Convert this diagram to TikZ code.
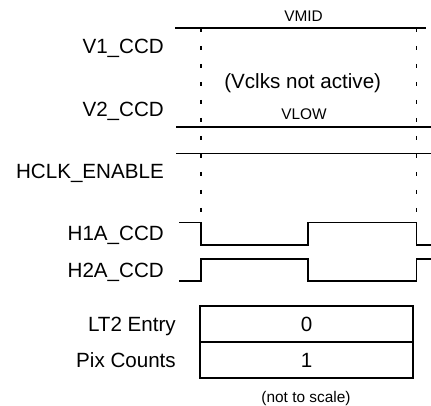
\documentclass[tikz,border=0pt]{standalone}
\usepackage{fontspec}
\setmainfont{Liberation Sans}
\begin{document}
\begin{tikzpicture}[x=1pt,y=-1pt,
  sig/.style={line width=1.5pt},
  guide/.style={line width=1.5pt, dash pattern=on 4pt off 14pt},
  lbl/.style={anchor=base east, inner sep=0pt, font=\fontsize{20.6}{24}\selectfont},
  big/.style={anchor=base, inner sep=0pt, font=\fontsize{20.6}{24}\selectfont},
  small/.style={anchor=base, inner sep=0pt, font=\fontsize{15.4}{18}\selectfont},
  cell/.style={draw, line width=1.5pt, minimum width=213pt, minimum height=36pt, inner sep=0pt, font=\fontsize{20.6}{24}\selectfont}]
\path[use as bounding box] (0,0) rectangle (431,406);

% labels
\node[lbl] (v1) at (164,53.4) {V1\_CCD};
\node[lbl] (v2) at (164,116.4) {V2\_CCD};
\node[lbl] (hclk) at (164,178.4) {HCLK\_ENABLE};
\node[lbl] (h1a) at (164,240.4) {H1A\_CCD};
\node[lbl] (h2a) at (164,277.4) {H2A\_CCD};
\node[lbl] (lt2) at (176,331.4) {LT2 Entry};
\node[lbl] (pix) at (176,367.4) {Pix Counts};

\node[small] (vmid) at (303.5,21.5) {VMID};
\node[small] (vlow) at (304,119.5) {VLOW};
\node[big] (vclk) at (302.7,88.4) {(Vclks not active)};
\node[small] (scale) at (306,402) {(not to scale)};

% coordinates
\coordinate (ga1) at (201,28);
\coordinate (ga2) at (201,222.7);
\coordinate (gb1) at (416.5,28);
\coordinate (gb2) at (416.5,222.7);

% guides
\draw[guide] (ga1) -- (ga2);
\draw[guide] (gb1) -- (gb2);

% levels
\draw[sig] (175,28) -- (426,28);
\draw[sig] (176,127) -- (431,127);
\draw[sig] (176,153.5) -- (431,153.5);

% H1A
\draw[sig] (179,222.7) -- (201,222.7) -- (201,245) -- (308,245) -- (308,222.7)
  -- (416.5,222.7) -- (416.5,245) -- (431,245);
% H2A
\draw[sig] (179,281) -- (201,281) -- (201,259) -- (308,259) -- (308,281)
  -- (416.5,281) -- (416.5,259) -- (431,259);

% boxes
\node[cell] (c0) at (306.5,324) {0};
\node[cell] (c1) at (306.5,360) {1};
\end{tikzpicture}
\end{document}
